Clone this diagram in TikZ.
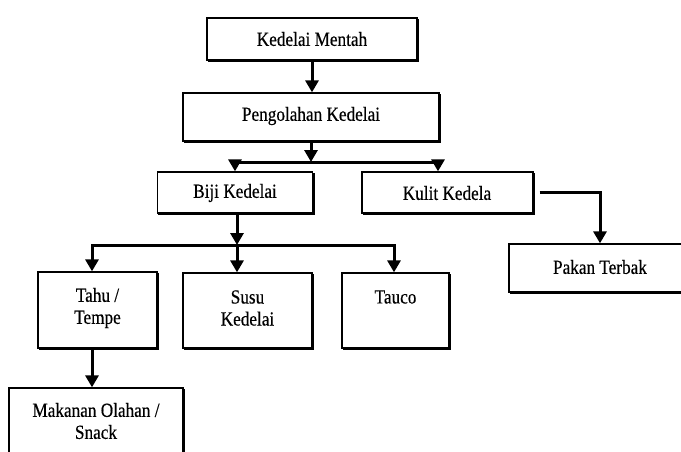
\documentclass[tikz,border=0pt]{standalone}
\usepackage{fontspec}
\setmainfont{Liberation Serif}[FakeStretch=0.86,FakeBold=0.4]
\usetikzlibrary{arrows.meta}
\begin{document}
\begin{tikzpicture}[x=1pt,y=-1pt,
  box/.style={draw, line width=1.3pt, fill=white, inner sep=0pt,
    preaction={draw, line width=1.6pt, transform canvas={xshift=1.3pt, yshift=-1.3pt}}},
  txt/.style={font=\fontsize{20}{22}\selectfont, align=center, inner sep=0pt},
  conn/.style={line width=3pt},
  arr/.style={conn, -{Triangle[width=13pt,length=12pt]}}]
\clip (0,0) rectangle (681,451);
\fill[white] (0,0) rectangle (681,451);
% boxes
\node[box, minimum width=210pt, minimum height=42pt] (km) at (312,39) {};
\node[box, minimum width=256pt, minimum height=48pt] (pk) at (311,117) {};
\node[box, minimum width=155pt, minimum height=41pt] (bk) at (235,192.5) {};
\node[box, minimum width=171pt, minimum height=41pt] (kk) at (447.5,192.5) {};
\node[box, minimum width=182pt, minimum height=48pt] (pt) at (600,268) {};
\node[box, minimum width=119pt, minimum height=76pt] (th) at (97.5,310) {};
\node[box, minimum width=129pt, minimum height=75pt] (sk) at (247.5,310.5) {};
\node[box, minimum width=107pt, minimum height=75pt] (ta) at (395.5,310.5) {};
\node[box, minimum width=174pt, minimum height=82pt] (mo) at (96,429) {};
% texts
\node[txt] (tkm) at (312,39) {Kedelai Mentah};
\node[txt] (tpk) at (311,116) {Pengolahan Kedelai};
\node[txt] (tbk) at (235,193) {Biji Kedelai};
\node[txt] (tkk) at (447,193) {Kulit Kedela};
\node[txt] (tpt) at (600,267) {Pakan Terbak};
\node[txt] (tth) at (97.5,308) {Tahu /\\Tempe};
\node[txt] (tsk) at (247.5,308) {Susu\\Kedelai};
\node[txt] (tta) at (395.5,297) {Tauco};
\node[txt] (tmo) at (96,421) {Makanan Olahan /\\Snack};
% connectors
\draw[arr] (km.south) -- (km.south |- pk.north);
\coordinate (b1) at (311,162);
\coordinate (b1l) at (235,162);
\coordinate (b1r) at (438,162);
\draw[arr] (pk.south) -- (b1);
\draw[conn, line cap=rect] (b1l) -- (b1r);
\draw[arr] (b1l) -- (b1l |- bk.north);
\draw[arr] (b1r) -- (b1r |- kk.north);
\coordinate (b2) at (237,245);
\coordinate (b2l) at (92,245);
\coordinate (b2r) at (394,245);
\draw[arr] (b2 |- bk.south) -- (b2);
\draw[conn, line cap=rect] (b2l) -- (b2r);
\draw[arr] (b2l) -- (b2l |- th.north);
\draw[arr] (b2) -- (b2 |- sk.north);
\draw[arr] (b2r) -- (b2r |- ta.north);
\draw[arr] ([xshift=6pt]kk.east) -| (pt.north);
\draw[arr] (b2l |- th.south) -- (b2l |- mo.north);
\end{tikzpicture}
\end{document}
